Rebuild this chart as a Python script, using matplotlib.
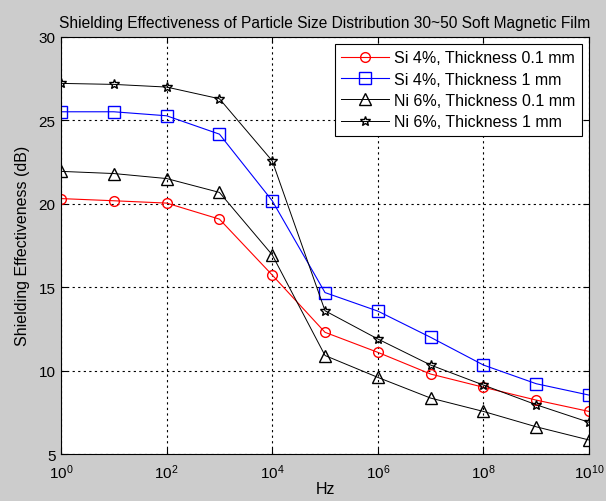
import matplotlib
matplotlib.use("Agg")
import matplotlib.pyplot as plt
import numpy as np

# frequency points (Hz)
freq = [1e0, 1e1, 1e2, 1e3, 1e4, 1e5, 1e6, 1e7, 1e8, 1e9, 1e10]

si_01 = [20.3, 20.17, 20.03, 19.07, 15.72, 12.29, 11.09, 9.79, 9.0, 8.23, 7.55]
si_1 = [25.5, 25.5, 25.26, 24.16, 20.17, 14.67, 13.56, 11.99, 10.33, 9.21, 8.53]
ni_01 = [21.93, 21.8, 21.5, 20.67, 16.93, 10.9, 9.59, 8.35, 7.55, 6.63, 5.84]
ni_1 = [27.2, 27.14, 26.98, 26.28, 22.56, 13.58, 11.89, 10.33, 9.13, 7.95, 6.9]

labels = ["Si 4%, Thickness 0.1 mm", "Si 4%, Thickness 1 mm",
          "Ni 6%, Thickness 0.1 mm", "Ni 6%, Thickness 1 mm"]

xticks = [1e0, 1e2, 1e4, 1e6, 1e8, 1e10]
yticks = [5, 10, 15, 20, 25, 30]

plt.rcParams['font.family'] = ['Liberation Sans', 'DejaVu Sans']
plt.rcParams['font.size'] = 11
plt.rcParams['mathtext.fontset'] = 'custom'
plt.rcParams['mathtext.rm'] = 'Liberation Sans'
plt.rcParams['mathtext.it'] = 'Liberation Sans'

fig = plt.figure(figsize=(6.06, 5.02), dpi=100, facecolor='#cccccc')
ax = fig.add_axes([0.1007, 0.0936, 0.8713, 0.8314])

ax.plot(freq, si_01, '-o', color='red', mfc='none', ms=7, lw=0.8, label=labels[0])
ax.plot(freq, si_1, '-s', color='blue', mfc='none', ms=8, lw=0.8, label=labels[1])
ax.plot(freq, ni_01, '-^', color='black', mfc='none', ms=8, lw=0.7, label=labels[2])
ax.plot(freq, ni_1, '-*', color='black', mfc='none', ms=7, lw=0.7, label=labels[3])

ax.set_xscale('log')
ax.set_xlim(1e0, 1e10)
ax.set_ylim(5, 30)
ax.set_xticks(xticks)
ax.set_yticks(yticks)
ax.xaxis.set_minor_locator(matplotlib.ticker.NullLocator())
ax.tick_params(direction='in', length=4, top=True, right=True, labelsize=11)
ax.tick_params(axis='x', pad=6)
ax.tick_params(axis='y', pad=4)
ax.grid(True, color='black', linestyle=(0, (2, 3)), linewidth=0.8)

ax.set_title("Shielding Effectiveness of Particle Size Distribution 30~50 Soft Magnetic Film",
             fontsize=11.2, pad=7)
ax.set_xlabel("Hz", fontsize=11.5, labelpad=0)
ax.set_ylabel("Shielding Effectiveness (dB)", fontsize=11.5, labelpad=6)

leg = ax.legend(loc='upper right', fontsize=11.5, fancybox=False, framealpha=1,
                edgecolor='black', borderaxespad=0.45, handlelength=3.0,
                labelspacing=0.4, handletextpad=0.3, borderpad=0.4)
leg.get_frame().set_linewidth(0.8)

fig.savefig("out.png", dpi=100, facecolor=fig.get_facecolor())
